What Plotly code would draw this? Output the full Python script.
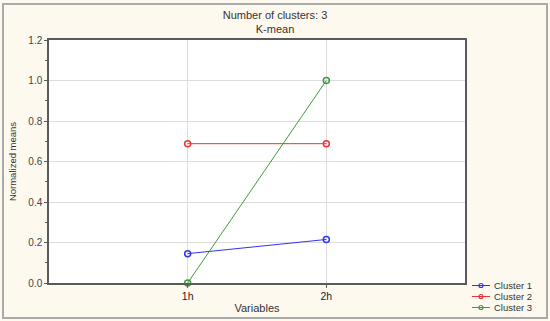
import plotly.graph_objects as go

variables = ["1h", "2h"]
x_pos = [1, 2]
cluster_names = ["Cluster 1", "Cluster 2", "Cluster 3"]
cluster1 = [0.145, 0.215]
cluster2 = [0.688, 0.688]
cluster3 = [0.0, 1.0]
colors = ["#3333ee", "#ee3333", "#3d9a3d"]

fig = go.Figure()
for name, vals, c in zip(cluster_names, [cluster1, cluster2, cluster3], colors):
    fig.add_trace(go.Scatter(
        x=x_pos, y=vals, name=name, mode="lines+markers",
        line=dict(color=c, width=1),
        marker=dict(symbol="circle-open", size=6, color=c, line=dict(width=1.5)),
        cliponaxis=False, showlegend=False,
    ))

L, R, T, B = 49, 465, 40, 283
W, H = 550, 321
def px(x):
    return (x - L) / (R - L)
def py(y):
    return (B - y) / (B - T)

shapes = [
    dict(type="rect", xref="paper", yref="paper",
         x0=px(3), x1=px(547), y0=py(318), y1=py(4),
         line=dict(color="#aaaaaa", width=2), layer="below"),
]
annotations = []
# legend (drawn as key samples + text, one row per cluster)
for i, (name, c) in enumerate(zip(cluster_names, colors)):
    yc = 285.5 + 11 * i
    shapes.append(dict(type="line", xref="paper", yref="paper",
                       x0=px(472), x1=px(490), y0=py(yc), y1=py(yc),
                       line=dict(color=c, width=1)))
    shapes.append(dict(type="circle", xref="paper", yref="paper",
                       x0=px(479), x1=px(483), y0=py(yc + 2), y1=py(yc - 2),
                       line=dict(color=c, width=1.2), fillcolor="rgba(0,0,0,0)"))
    annotations.append(dict(text=name, xref="paper", yref="paper",
                            x=px(492), y=py(yc), xanchor="left", yanchor="middle",
                            showarrow=False, font=dict(size=9.5, color="#333333")))

fig.update_layout(
    width=W, height=H,
    margin=dict(l=L, r=W - R, t=T, b=H - B, autoexpand=False),
    paper_bgcolor="#fdf9ee",
    plot_bgcolor="white",
    font=dict(family="Liberation Sans, Arial, sans-serif", size=9, color="#333333"),
    title=dict(text="Number of clusters: 3<br>K-mean", x=0.5, xanchor="center",
               y=1 - 19 / H, yanchor="top", font=dict(size=11, color="#333333"),
               automargin=False),
    showlegend=False,
    xaxis=dict(
        range=[0, 3], tickmode="array", tickvals=x_pos, ticktext=variables,
        showgrid=True, gridcolor="#dddddd", gridwidth=1,
        showline=True, linecolor="#5a5a5a", linewidth=1.5, mirror=True,
        ticks="outside", ticklen=3, tickcolor="#5a5a5a",
        title=dict(text="Variables", standoff=3, font=dict(size=11)),
        zeroline=False, tickfont=dict(size=10.5, color="#222222"), automargin=False,
    ),
    yaxis=dict(
        range=[0, 1.2], tickvals=[0, 0.2, 0.4, 0.6, 0.8, 1.0, 1.2],
        ticktext=["0.0", "0.2", "0.4", "0.6", "0.8", "1.0", "1.2"],
        showgrid=True, gridcolor="#dddddd", gridwidth=1,
        showline=True, linecolor="#5a5a5a", linewidth=1.5, mirror=True,
        ticks="outside", ticklen=3, tickcolor="#5a5a5a",
        minor=dict(dtick=0.1, ticks="outside", ticklen=2, tickcolor="#5a5a5a", showgrid=False),
        title=dict(text="Normalized means", standoff=10, font=dict(size=9.5)),
        zeroline=False, tickfont=dict(size=10, color="#444444"), automargin=False,
    ),
    shapes=shapes,
    annotations=annotations,
)

fig.write_html(
    "out.html",
    config={"displayModeBar": False},
    post_script="document.body.style.margin='0';document.body.style.overflow='hidden';",
)
